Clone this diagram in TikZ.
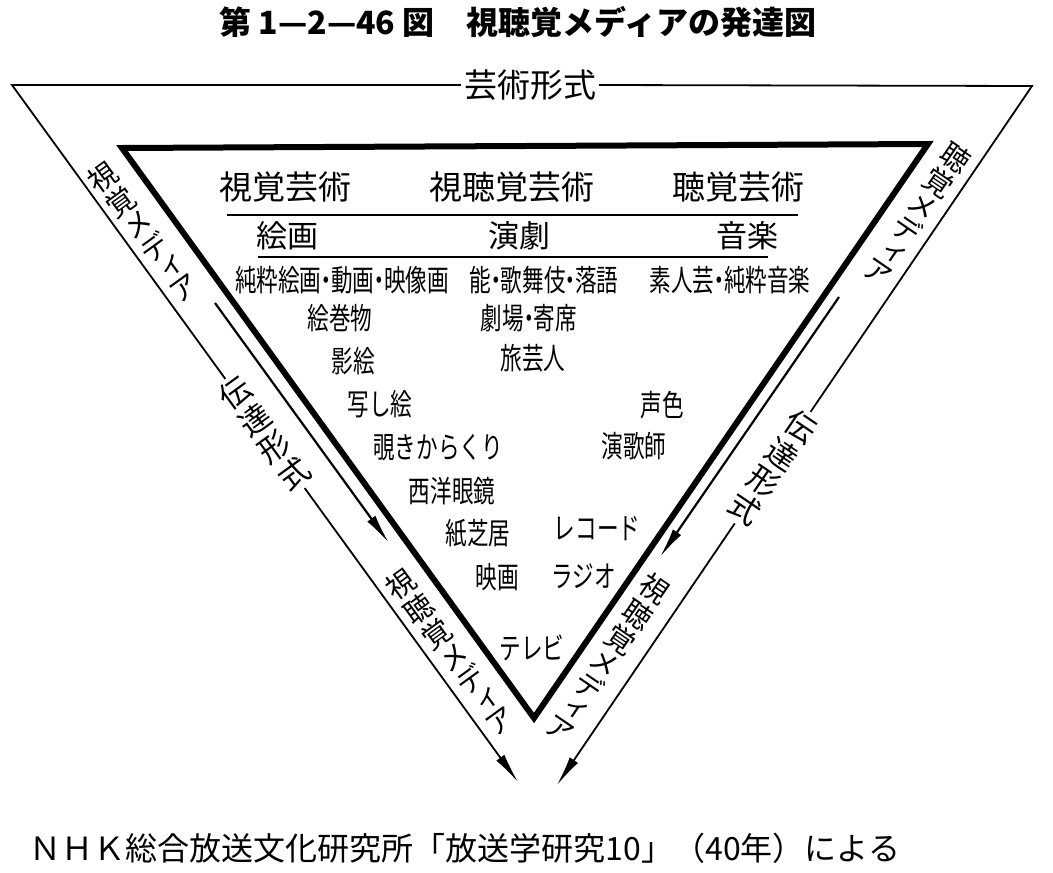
\documentclass[tikz,border=0pt]{standalone}
\usepackage{fontspec}
\usepackage{graphicx}
\newfontfamily\jp{Noto Sans CJK JP}
\newfontfamily\jpv[RawFeature=+vert]{Noto Sans CJK JP}
\usetikzlibrary{arrows.meta,calc}
\newcommand\cz[1]{\scalebox{0.72}[1]{#1}}
\newcommand\dt{\makebox[0.45em]{・}}
\newcommand\rc[1]{\rotatebox{90}{#1}}
\newcommand\gp{\hspace{4pt}}
\newcommand\gq{\hspace{5pt}}
\tikzset{
  titletext/.style={font=\jp\bfseries\fontsize{32}{32}\selectfont, inner sep=0},
  hdr/.style={font=\jp\fontsize{33}{33}\selectfont, inner sep=0},
  cat/.style={font=\jp\fontsize{31}{31}\selectfont, inner sep=0},
  item/.style={font=\jp\fontsize{30}{30}\selectfont, inner sep=0},
  vlab/.style={font=\jpv\fontsize{29}{29}\selectfont, inner sep=1pt},
  vlabw/.style={font=\jpv\fontsize{31}{31}\selectfont, inner sep=3pt},
  toplab/.style={font=\jp\fontsize{33}{33}\selectfont, inner sep=3pt},
  outerline/.style={line width=1.8pt},
  thinline/.style={line width=2.2pt},
  tri/.style={line width=6pt, line join=miter},
  rule/.style={line width=2.4pt},
  tip/.style={-{Latex[length=30pt,width=10pt]}},
  foot/.style={font=\jp\fontsize{32}{32}\selectfont, inner sep=0}
}
\begin{document}
\begin{tikzpicture}[x=1pt,y=-1pt]
\useasboundingbox (0,0) rectangle (1053,873);
% corners
\coordinate (OTL) at (12,85);
\coordinate (OTR) at (1032,86);
\coordinate (LA) at (518,782);
\coordinate (RA) at (557,785);
\coordinate (TL) at (122,148);
\coordinate (TR) at (928,144);
\coordinate (B) at (534,718);
% inner thin arrow lines
\coordinate (LS) at (215,303);
\coordinate (LE) at (389,543);
\coordinate (RS) at (839,297);
\coordinate (RE) at (660,557);

% title
\node[titletext] (title) at (518,22) {第 1—2—46 図　視聴覚メディアの発達図};
% top label
\node[toplab] (art) at (530,85) {芸術形式};
% side labels on outer lines (vertical writing along the slope)
\node[vlabw, rotate=-54] (lvt) at ($(OTL)!0.5!(LA)$) {\rc{伝}\gq\rc{達}\gq\rc{形}\gq\rc{式}};
\node[vlabw, rotate=-124.2] (rvt) at ($(OTR)!0.546!(RA)$) {\rc{伝}\gq\rc{達}\gq\rc{形}\gq\rc{式}};
% media labels
\node[vlab, rotate=-54] (lm1) at (143,232) {\rc{視}\gp\rc{覚}\gp\rc{メ}\gp\rc{デ}\gp\rc{ィ}\gp\rc{ア}};
\node[vlab, rotate=-54] (lm2) at (450,652) {\rc{視}\gp\rc{聴}\gp\rc{覚}\gp\rc{メ}\gp\rc{デ}\gp\rc{ィ}\gp\rc{ア}};
\node[vlab, rotate=-124.3] (rm1) at (917,214) {\rc{聴}\gp\rc{覚}\gp\rc{メ}\gp\rc{デ}\gp\rc{ィ}\gp\rc{ア}};
\node[vlab, rotate=-124.3] (rm2) at (608,658) {\rc{視}\gp\rc{聴}\gp\rc{覚}\gp\rc{メ}\gp\rc{デ}\gp\rc{ィ}\gp\rc{ア}};

% outer frame
\draw[outerline] (art.west) -- (OTL) -- (lvt.west);
\draw[outerline, tip] (lvt.east) -- (LA);
\draw[outerline] (art.east) -- (OTR) -- (rvt.west);
\draw[outerline, tip] (rvt.east) -- (RA);
% inner arrows
\draw[thinline, tip] (LS) -- (LE);
\draw[thinline, tip] (RS) -- (RE);
% thick triangle
\draw[tri] (TL) -- (TR) -- (B) -- cycle;

% headers
\node[hdr] (h1) at (285,187) {視覚芸術};
\node[hdr] (h2) at (512,187) {視聴覚芸術};
\node[hdr] (h3) at (738,187) {聴覚芸術};
\draw[rule] (227,215) -- (798,215);
\node[cat] (c1) at (287,236) {絵画};
\node[cat] (c2) at (519,236) {演劇};
\node[cat] (c3) at (747,236) {音楽};
\draw[rule] (258,257) -- (768,257);

% items
\node[item] (i1) at (342,280) {\cz{純粋絵画\dt 動画\dt 映像画}};
\node[item] (i2) at (544,280) {\cz{能\dt 歌舞伎\dt 落語}};
\node[item] (i3) at (730,280) {\cz{素人芸\dt 純粋音楽}};
\node[item] (i4) at (340,318) {\cz{絵巻物}};
\node[item] (i5) at (529,318) {\cz{劇場\dt 寄席}};
\node[item] (i6) at (353,361) {\cz{影絵}};
\node[item] (i7) at (533,358) {\cz{旅芸人}};
\node[item] (i8) at (380,404) {\cz{写し絵}};
\node[item] (i9) at (662,405) {\cz{声色}};
\node[item] (i10) at (438,448) {\cz{覗きからくり}};
\node[item] (i11) at (634,446) {\cz{演歌師}};
\node[item] (i12) at (452,491) {\cz{西洋眼鏡}};
\node[item] (i13) at (478,533) {\cz{紙芝居}};
\node[item] (i14) at (597,529) {\cz{レコード}};
\node[item] (i15) at (497,577) {\cz{映画}};
\node[item] (i16) at (584,576) {\cz{ラジオ}};
\node[item] (i17) at (532,648) {\cz{テレビ}};

% footer
\node[foot] (foot) at (465,848) {ＮＨＫ総合放送文化研究所「放送学研究10」（40年）による};
\end{tikzpicture}
\end{document}
